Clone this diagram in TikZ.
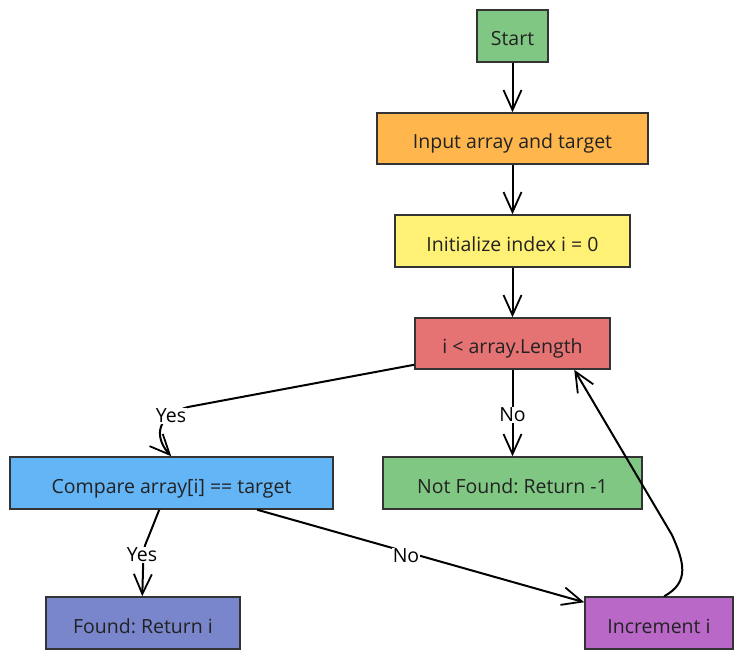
\documentclass[tikz,border=0pt]{standalone}
\usepackage{fontspec}
\setmainfont{Open Sans}
\usetikzlibrary{arrows.meta,calc}
\frenchspacing
\definecolor{cgreen}{HTML}{81C784}
\definecolor{corange}{HTML}{FFB74D}
\definecolor{cyellow}{HTML}{FFF176}
\definecolor{cred}{HTML}{E57373}
\definecolor{cblue}{HTML}{64B5F6}
\definecolor{cindigo}{HTML}{7986CB}
\definecolor{cpurple}{HTML}{BA68C8}
\definecolor{cborder}{HTML}{333333}
\definecolor{ctext}{HTML}{222222}
\tikzset{
  box/.style={draw=cborder, line width=1.5pt, rectangle, inner sep=0pt, font=\fontsize{19.5}{22}\selectfont\frenchspacing, text=ctext, text height=20pt, text depth=0pt},
  conn/.style={line width=2pt, -{Straight Barb[length=20pt,width=18pt,line width=1.8pt]}},
  lbl/.style={fill=white, inner sep=1pt, font=\fontsize{19.5}{22}\selectfont, text=black}
}
\begin{document}
\begin{tikzpicture}[x=1pt,y=-1pt]
\useasboundingbox (0,0) rectangle (743,660);
\node[box, fill=cgreen, minimum width=71pt, minimum height=52pt] (start) at (512.5,36) {Start};
\node[box, fill=corange, minimum width=271pt, minimum height=51pt] (input) at (512.5,138.5) {Input array and target};
\node[box, fill=cyellow, minimum width=235pt, minimum height=52pt] (init) at (512.5,241) {Initialize index i = 0};
\node[box, fill=cred, minimum width=195pt, minimum height=51pt] (cond) at (512.5,343.5) {i < array.Length};
\node[box, fill=cblue, minimum width=323pt, minimum height=52pt] (cmp) at (171.5,483) {Compare array[i] == target};
\node[box, fill=cgreen, minimum width=259pt, minimum height=52pt] (nf) at (512.5,483) {Not Found: Return -1};
\node[box, fill=cindigo, minimum width=194pt, minimum height=52pt] (found) at (143,623) {Found: Return i};
\node[box, fill=cpurple, minimum width=148pt, minimum height=52pt] (inc) at (659,623) {Increment i};

\draw[conn] (start) -- (input);
\draw[conn] (input) -- (init);
\draw[conn] (init) -- (cond);
\draw[conn] ($(cond.south west)+(0,-5)$) -- (188,407) .. controls (150,418) and (158,442) .. ($(cmp.north west)+(162,0)$);
\node[lbl] (yes1) at (171,416) {Yes};
\draw[conn] (cond) -- (nf);
\node[lbl] (no1) at (512.5,415) {No};
\draw[conn] ($(cmp.south west)+(150,0)$) -- (148,538) .. controls (143,550) .. (143,570) -- ($(found.north west)+(97,0)$);
\node[lbl] (yes2) at (142,555) {Yes};
\draw[conn] ($(cmp.south west)+(248,0)$) -- ($(inc.north west)+(0,6)$);
\node[lbl] (no2) at (406,556) {No};
\draw[conn] ($(inc.north west)+(80,0)$) .. controls (690,582) and (684,562) .. (672,535) -- ($(cond.south west)+(160,0)$);
\end{tikzpicture}
\end{document}
